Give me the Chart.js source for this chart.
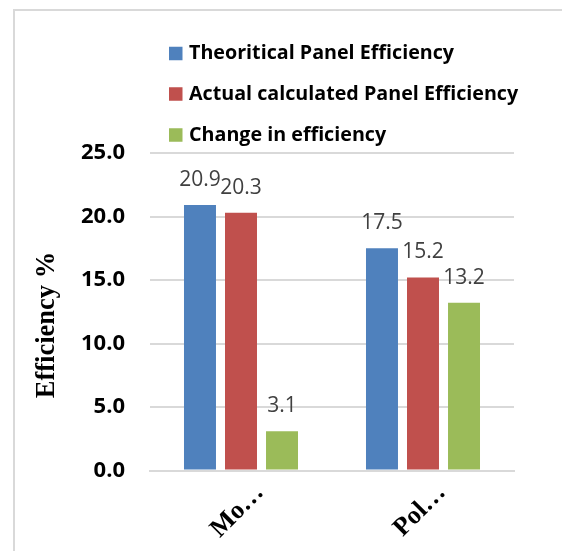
<!DOCTYPE html>
<html>
<head>
<meta charset="utf-8">
<script src="https://cdn.jsdelivr.net/npm/chart.js@4.4.1/dist/chart.umd.min.js"></script>
<style>
  html, body { margin: 0; padding: 0; background: #ffffff; }
  #wrap { position: relative; width: 562px; height: 551px; overflow: hidden; }
  #frame { position: absolute; left: 13px; top: 9px; width: 600px; height: 600px;
           border-left: 2px solid #d9d9d9; border-top: 2px solid #d9d9d9; box-sizing: border-box; }
  #c { position: absolute; left: 0; top: 0; }
</style>
</head>
<body>
<div id="wrap">
  <div id="frame"></div>
  <canvas id="c" width="562" height="551"></canvas>
</div>
<script>
const categories = ["Mo\u2026", "Pol\u2026"];
const seriesNames = ["Theoritical Panel Efficiency", "Actual calculated Panel Efficiency", "Change in efficiency"];
const theoretical = [20.9, 17.5];
const actual = [20.3, 15.2];
const change = [3.1, 13.2];
const yTicks = [0, 5, 10, 15, 20, 25];
const colors = ["#4f81bd", "#c0504d", "#9bbb59"];

const valueLabels = {
  id: 'valueLabels',
  afterDatasetsDraw(chart) {
    const ctx = chart.ctx;
    ctx.save();
    ctx.font = '21px "Open Sans"';
    ctx.fillStyle = '#404040';
    ctx.textAlign = 'center';
    ctx.textBaseline = 'middle';
    chart.data.datasets.forEach((ds, i) => {
      const meta = chart.getDatasetMeta(i);
      meta.data.forEach((bar, j) => {
        ctx.fillText(ds.data[j].toFixed(1), bar.x, bar.y - 25);
      });
    });
    ctx.restore();
  }
};

const customLegend = {
  id: 'customLegend',
  afterDraw(chart) {
    const ctx = chart.ctx;
    ctx.save();
    ctx.font = 'bold 19.7px "Open Sans"';
    ctx.textAlign = 'left';
    ctx.textBaseline = 'middle';
    const rowsY = [53.5, 94, 135];
    chart.data.datasets.forEach((ds, i) => {
      const y = rowsY[i];
      ctx.fillStyle = ds.backgroundColor;
      ctx.fillRect(169, y - 6.75, 13.5, 13.5);
      ctx.fillStyle = '#000000';
      ctx.fillText(ds.label, 189, y);
    });
    ctx.restore();
  }
};

new Chart(document.getElementById('c'), {
  type: 'bar',
  data: {
    labels: categories,
    datasets: [
      { label: seriesNames[0], data: theoretical, backgroundColor: colors[0] },
      { label: seriesNames[1], data: actual, backgroundColor: colors[1] },
      { label: seriesNames[2], data: change, backgroundColor: colors[2] }
    ]
  },
  options: {
    responsive: false,
    animation: false,
    devicePixelRatio: 1,
    layout: { padding: { left: 0, right: 48, top: 153, bottom: 0 } },
    datasets: { bar: { categoryPercentage: 0.676, barPercentage: 0.78 } },
    plugins: {
      legend: { display: false },
      tooltip: { enabled: false }
    },
    scales: {
      x: {
        grid: { display: false, drawTicks: false },
        border: { display: true, color: '#d9d9d9', width: 2 },
        ticks: {
          color: '#000000',
          font: { family: '"Liberation Serif"', weight: 'bold', size: 26 },
          minRotation: 45, maxRotation: 45,
          padding: 7,
          labelOffset: 19
        },
        afterFit(scale) { scale.height = 80.5; }
      },
      y: {
        min: 0, max: 25,
        afterBuildTicks(scale) { scale.ticks = yTicks.map(v => ({ value: v })); },
        grid: { color: '#d9d9d9', lineWidth: 2, drawTicks: false },
        border: { display: false },
        ticks: {
          color: '#000000',
          font: { family: '"Open Sans"', weight: 'bold', size: 22 },
          padding: 25,
          callback: v => Number(v).toFixed(1)
        },
        title: {
          display: true,
          text: 'Efficiency %\u00a0\u00a0\u00a0\u00a0',
          color: '#000000',
          font: { family: '"Liberation Serif"', weight: 'bold', size: 26.5 },
          padding: { top: 31, bottom: 0 }
        },
        afterFit(scale) { scale.width = 150; }
      }
    }
  },
  plugins: [valueLabels, customLegend]
});
</script>
</body>
</html>
